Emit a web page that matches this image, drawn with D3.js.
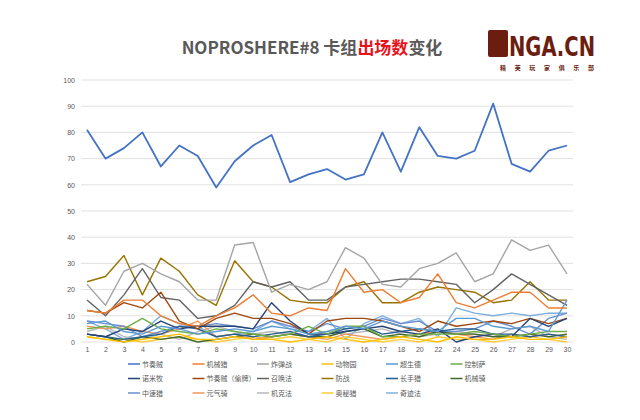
<!DOCTYPE html>
<html><head><meta charset="utf-8">
<script src="https://cdn.jsdelivr.net/npm/d3@7"></script>
<style>body{margin:0;background:#fff;font-family:"Noto Sans CJK SC","Noto Sans",sans-serif}</style>
</head><body><div id="chart"></div>
<script>
// Days (19, 21, 23 missing in the source)
var days = ['1','2','3','4','5','6','7','8','9','10','11','12','13','14','15','16','17','18','20','22','24','25','26','27','28','29','30'];
var names = ['节奏贼','机械猎','炸弹战','动物园','超生德','控制萨','诺米牧','节奏贼（偷牌）','召唤法','防战','长手猎','机械骑','中速猎','元气骑','机克法','奥秘猎','奇迹法'];
var colors = ['#4472C4','#ED7D31','#A5A5A5','#FFC000','#5B9BD5','#70AD47','#264478','#9E480E','#636363','#997300','#255E91','#43682B','#698ED0','#F1975A','#B7B7B7','#FFCD33','#7CAFDD'];
var values = [
  [81,70,74,80,67,75,71,59,69,75,79,61,64,66,62,64,80,65,82,71,70,73,91,68,65,73,75],
  [12,11,16,16,10,7,6,10,13,18,11,10,13,12,28,19,20,15,17,26,15,13,16,19,19,13,13],
  [22,14,27,30,26,23,16,16,37,38,19,22,20,23,36,32,22,21,28,30,34,23,26,39,35,37,26],
  [2,1,0,1,2,3,1,1,2,1,1,0,1,2,1,0,1,2,1,0,2,1,1,2,1,1,2],
  [7,8,4,3,6,5,3,4,5,4,6,5,3,4,6,5,8,6,5,4,9,9,6,5,6,4,16],
  [5,6,5,9,5,4,3,5,4,3,2,3,6,3,6,6,2,2,3,3,3,4,3,2,3,4,4],
  [3,2,5,4,8,5,6,6,6,5,15,8,3,3,4,5,6,4,3,5,0,2,3,2,9,6,9],
  [12,11,15,13,19,8,5,9,11,9,9,7,3,8,9,9,8,6,4,8,6,7,8,7,9,7,9],
  [16,10,18,28,17,16,9,10,14,23,21,23,16,16,21,22,23,24,24,23,22,15,20,26,22,18,14],
  [23,25,33,18,32,27,18,14,31,23,21,16,15,15,21,23,15,15,19,21,20,19,15,16,23,16,16],
  [3,2,1,2,3,6,5,2,3,2,3,4,2,3,5,6,3,4,5,4,5,5,3,3,2,3,2],
  [3,2,0,2,1,2,0,1,2,3,2,3,2,2,4,5,2,3,2,4,3,3,2,2,3,2,3],
  [8,7,6,2,4,6,6,7,6,5,8,6,4,7,5,6,9,7,8,4,4,5,8,6,3,9,11],
  [6,5,6,4,3,5,8,2,3,1,2,3,2,1,3,2,1,2,3,4,3,2,1,3,2,3,2],
  [4,6,2,1,3,1,4,6,4,3,4,3,2,4,3,4,5,3,2,3,4,3,2,5,6,2,1],
  [2,1,1,0,1,2,1,0,1,2,1,2,1,0,2,1,0,1,0,2,1,1,0,1,2,1,0],
  [8,5,1,4,10,7,6,2,3,4,8,5,4,9,1,7,10,7,9,2,13,11,10,11,10,11,11]
];
var yTicks = [0,10,20,30,40,50,60,70,80,90,100];

var W = 640, H = 420;
var margin = { top: 80, right: 73, bottom: 78, left: 87 };
var width = W - margin.left - margin.right, height = H - margin.top - margin.bottom;

var svg = d3.select('#chart').append('svg').attr('width', W).attr('height', H);

// Title
var title = svg.append('text').attr('x', 312).attr('y', 54).attr('text-anchor', 'middle')
  .style('font-size', '17px').style('font-weight', 'bold').attr('fill', '#595959');
title.append('tspan').text('NOPROSHERE#8 卡组');
title.append('tspan').attr('fill', '#E8141B').text('出场数');
title.append('tspan').text('变化');

// Logo
var logo = svg.append('g').attr('transform', 'translate(488,30)');
logo.append('rect').attr('width', 20).attr('height', 27).attr('rx', 2).attr('fill', '#6B1D10');
logo.append('text').attr('x', 21).attr('y', 26).text('NGA.CN').attr('textLength', 86).attr('lengthAdjust', 'spacingAndGlyphs')
  .style('font-family', 'DejaVu Sans').style('font-size', '26px').style('font-weight', 'bold').attr('fill', '#6B1D10');
logo.append('text').attr('x', 12).attr('y', 40).text('精 英 玩 家 俱 乐 部').attr('textLength', 94)
  .style('font-size', '6px').style('font-weight', 'bold').attr('fill', '#6B1D10');

var g = svg.append('g').attr('transform', 'translate(' + margin.left + ',' + margin.top + ')');
var x = d3.scalePoint().domain(days).range([0, width]);
var y = d3.scaleLinear().domain([0, 100]).range([height, 0]);

g.selectAll('.grid').data(yTicks).enter().append('line')
  .attr('x1', -6).attr('x2', width + 6)
  .attr('y1', d => y(d)).attr('y2', d => y(d))
  .attr('stroke', '#D9D9D9').attr('stroke-width', 0.8);

var yAxis = g.append('g').attr('transform', 'translate(-8,0)').call(d3.axisLeft(y).tickValues(yTicks).tickSize(0).tickPadding(4));
var xAxis = g.append('g').attr('transform', 'translate(0,' + (height + 2) + ')').call(d3.axisBottom(x).tickSize(0).tickPadding(3));
[yAxis, xAxis].forEach(a => {
  a.select('.domain').remove();
  a.selectAll('text').attr('fill', '#595959').style('font-size', '7px');
});

var line = d3.line().x((d, i) => x(days[i])).y(d => y(d));
// draw main series last so it sits on top
d3.range(names.length).reverse().forEach(function (k) {
  g.append('path').datum(values[k]).attr('d', line).attr('fill', 'none')
    .attr('stroke', colors[k]).attr('stroke-width', k === 0 ? 1.8 : 1.4).attr('stroke-linejoin', 'round');
});

// Legend
var leg = svg.append('g').attr('transform', 'translate(128,364)');
names.forEach(function (n, i) {
  var item = leg.append('g').attr('transform', 'translate(' + (i % 6) * 64.5 + ',' + Math.floor(i / 6) * 14.5 + ')');
  item.append('line').attr('x1', 0).attr('x2', 12).attr('stroke', colors[i]).attr('stroke-width', 1.5);
  item.append('text').attr('x', 14).attr('y', 2.5).text(n).style('font-size', '7px').attr('fill', '#595959');
});
</script></body></html>
